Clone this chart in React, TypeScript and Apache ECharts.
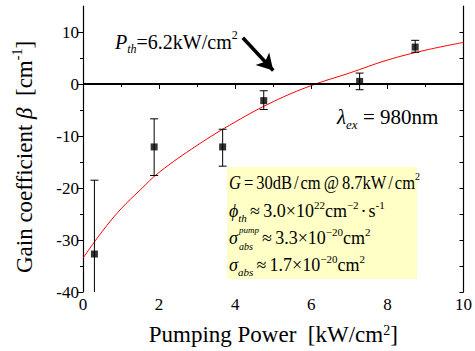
import React, { useEffect, useRef } from 'react';
import * as echarts from 'echarts';

const FONT = 'Liberation Serif';

// axis ticks
const xRange = [0, 10];
const yRange = [-40, 15];
const yMajorTicks = [-40, -30, -20, -10, 0, 10];
const yMinorTicks = [-35, -25, -15, -5, 5];

// measured data
const pumpPower = [0.3, 1.87, 3.67, 4.75, 7.27, 8.73];
const gainCoeff = [-32.7, -12.1, -12.1, -3.2, 0.5, 7.1];
const errLow = [-47, -17.6, -15.8, -4.9, -1.1, 6.1];
const errHigh = [-18.5, -6.7, -8.7, -1.3, 2.1, 8.4];

// fitted curve
const fitX = [0, 0.5, 1, 1.5, 2, 3, 4, 5, 6, 7, 8, 9, 10];
const fitY = [-33.5, -28.4, -24.0, -20.4, -17.0, -11.8, -7.3, -3.4, -0.3, 2.1, 4.6, 6.5, 8.0];

// annotation arrow (data coords)
const arrowStart = [4.2, 8.9];
const arrowEnd = [5.0, 2.6];

const rich = (size: number) => ({
  n: { fontSize: size, fontFamily: FONT, color: '#000', lineHeight: size + 6 },
  i: { fontSize: size, fontFamily: FONT, fontStyle: 'italic', color: '#000', lineHeight: size + 6 },
  sub: { fontSize: Math.round(size * 0.62), fontFamily: FONT, fontStyle: 'italic', color: '#000', verticalAlign: 'bottom' },
  sup: { fontSize: Math.round(size * 0.62), fontFamily: FONT, color: '#000', verticalAlign: 'top' },
  sp: { fontSize: 8, fontFamily: FONT },
  sm: { fontSize: 13, fontFamily: FONT },
});

const txt = (x: number, y: number, text: string, size: number, extra: any = {}, sx = 1) => ({
  type: 'text',
  x,
  y,
  scaleX: sx,
  z: 10,
  style: {
    text,
    rich: rich(size),
    fontSize: size,
    fontFamily: FONT,
    fill: '#000',
    align: 'left',
    verticalAlign: 'middle',
    ...extra,
  },
});

export default function App() {
  const ref = useRef<HTMLDivElement>(null);
  useEffect(() => {
    if (!ref.current) return;
    const chart = echarts.init(ref.current, null, { renderer: 'svg' });
    const axisBase = {
      type: 'value',
      splitLine: { show: false },
      axisLine: { show: true, lineStyle: { color: '#000', width: 1.2 } },
    };
    const option: any = {
      animation: false,
      backgroundColor: '#fff',
      textStyle: { fontFamily: FONT },
      grid: { left: 83, right: 8, top: 6, bottom: 58 },
      xAxis: [
        {
          ...axisBase,
          position: 'bottom',
          min: xRange[0],
          max: xRange[1],
          interval: 2,
          axisTick: { show: true, inside: false, length: 5, lineStyle: { color: '#000' } },
          minorTick: { show: true, splitNumber: 2, length: 3, lineStyle: { color: '#000' } },
          minorSplitLine: { show: false },
          axisLabel: { color: '#000', fontSize: 17, fontFamily: FONT, margin: 4 },
          name: 'Pumping Power  [kW/cm{sup|2}]',
          nameLocation: 'middle',
          nameGap: 31,
          nameTextStyle: { fontSize: 23, fontFamily: FONT, color: '#000', rich: rich(23) },
        },
        {
          ...axisBase,
          position: 'top',
          min: xRange[0],
          max: xRange[1],
          interval: 2,
          axisTick: { show: true, inside: true, length: 3, lineStyle: { color: '#000' } },
          minorTick: { show: false },
          axisLabel: { show: false },
        },
      ],
      yAxis: [
        {
          ...axisBase,
          position: 'left',
          min: yRange[0],
          max: yRange[1],
          interval: 5,
          axisTick: { show: true, inside: false, length: 5, customValues: yMajorTicks, lineStyle: { color: '#000' } },
          axisLabel: { color: '#000', fontSize: 17, fontFamily: FONT, margin: 4, customValues: yMajorTicks },
          name: '{n|Gain coefficient }{i|β}{n|  [cm}{sup|-1}{n|]}',
          nameLocation: 'middle',
          nameGap: 44,
          nameTextStyle: { fontSize: 23, fontFamily: FONT, color: '#000', rich: rich(23), padding: [0, 16, 0, 0] },
        },
        {
          ...axisBase,
          position: 'left',
          min: yRange[0],
          max: yRange[1],
          interval: 5,
          axisLine: { show: false },
          axisTick: { show: true, inside: false, length: 3, customValues: yMinorTicks, lineStyle: { color: '#000' } },
          axisLabel: { show: false },
        },
        {
          ...axisBase,
          position: 'right',
          min: yRange[0],
          max: yRange[1],
          interval: 5,
          axisTick: { show: true, inside: true, length: 4, customValues: [...yMajorTicks, ...yMinorTicks], lineStyle: { color: '#000' } },
          axisLabel: { show: false },
        },
      ],
      series: [
        {
          type: 'line',
          name: 'fit',
          xAxisIndex: 0,
          yAxisIndex: 0,
          data: fitX.map((x, i) => [x, fitY[i]]),
          smooth: 0.4,
          showSymbol: false,
          lineStyle: { color: '#ff0000', width: 1 },
          itemStyle: { color: '#ff0000' },
          z: 3,
          markLine: {
            silent: true,
            symbol: ['none', 'none'],
            label: { show: false },
            lineStyle: { color: '#000', width: 2, type: 'solid' },
            data: [{ yAxis: 0 }],
          },
        },
        {
          type: 'custom',
          name: 'error',
          xAxisIndex: 0,
          yAxisIndex: 0,
          clip: true,
          data: pumpPower.map((x, i) => [x, errLow[i], errHigh[i]]),
          encode: { x: 0, y: [1, 2] },
          renderItem: (params: any, api: any) => {
            const x = api.value(0);
            const lo = api.coord([x, api.value(1)]);
            const hi = api.coord([x, api.value(2)]);
            const w = 4;
            const st = { stroke: '#000', lineWidth: 1 };
            return {
              type: 'group',
              children: [
                { type: 'line', shape: { x1: hi[0], y1: hi[1], x2: lo[0], y2: lo[1] }, style: st },
                { type: 'line', shape: { x1: hi[0] - w, y1: hi[1], x2: hi[0] + w, y2: hi[1] }, style: st },
                { type: 'line', shape: { x1: lo[0] - w, y1: lo[1], x2: lo[0] + w, y2: lo[1] }, style: st },
              ],
            };
          },
          z: 4,
        },
        {
          type: 'scatter',
          name: 'data',
          xAxisIndex: 0,
          yAxisIndex: 0,
          data: pumpPower.map((x, i) => [x, gainCoeff[i]]),
          symbol: 'rect',
          symbolSize: 7,
          itemStyle: { color: '#000' },
          z: 5,
          markLine: {
            silent: true,
            symbol: ['none', 'arrow'],
            symbolSize: [14, 16],
            label: { show: false },
            lineStyle: { color: '#000', width: 3.5, type: 'solid' },
            data: [[{ coord: arrowStart }, { coord: arrowEnd }]],
          },
        },
      ],
      graphic: [
        {
          type: 'rect',
          shape: { x: 227, y: 167, width: 190, height: 112 },
          style: { fill: '#ffffc6' },
          z: 1,
        },
        txt(115, 42, '{i|P}{sub|th}{n|=6.2kW/cm}{sup|2}', 20),
        txt(337, 117, '{i|λ}{sub|ex}{n| = 980nm}', 21),
        txt(229, 183, '{i|G}{sm| }{n|=}{sm| }{n|30dB}{sp| }{n|/}{sp| }{n|cm}{sm| }{n|@}{sm| }{n|8.7kW}{sp| }{n|/}{sp| }{n|cm}{sup|2}', 18, {}, 0.92),
        txt(229, 211, '{i|ϕ}{sub|th}{sm| }{n|≈}{sm| }{n|3.0×10}{sup|22}{n|cm}{sup|−2}{sp| }{n|·}{sp| }{n|s}{sup|-1}', 18),
        txt(229, 238, '{i|σ}', 18),
        txt(239, 230, 'pump', 9, { fontStyle: 'italic' }),
        txt(239, 246, 'abs', 10, { fontStyle: 'italic' }),
        txt(262, 238, '{n|≈}{sm| }{n|3.3×10}{sup|−20}{n|cm}{sup|2}', 18),
        txt(229, 265, '{i|σ}{sub|abs}{sm| }{n|≈}{sm| }{n|1.7×10}{sup|−20}{n|cm}{sup|2}', 18),
      ],
    };
    chart.setOption(option);
    return () => chart.dispose();
  }, []);
  return <div ref={ref} style={{ width: 475, height: 351, position: 'absolute', left: 0, top: 0 }} />;
}
